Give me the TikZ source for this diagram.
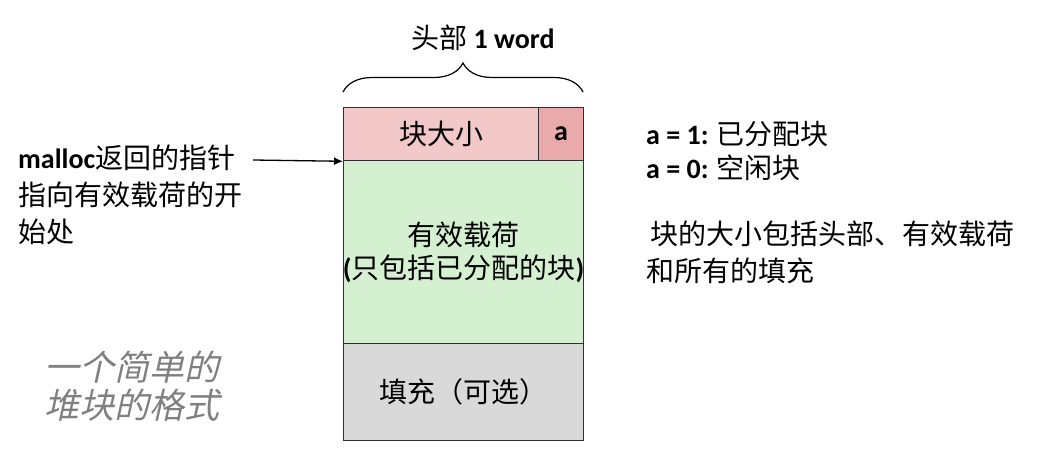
\documentclass[tikz,border=0pt]{standalone}
\usepackage{fontspec}
\setmainfont{Noto Sans CJK SC}
\newfontfamily\lat{Carlito}
\newfontfamily\cjkit[FakeSlant=0.22]{Noto Sans CJK SC}
\usetikzlibrary{decorations.pathreplacing,arrows.meta}
\definecolor{hdrpink}{HTML}{F2C8C8}
\definecolor{apink}{HTML}{E8AAAA}
\definecolor{paygreen}{HTML}{D5F0D0}
\definecolor{padgray}{HTML}{D9D9D9}
\definecolor{notegray}{HTML}{808080}
\definecolor{edge}{HTML}{303030}
\tikzset{
  cell/.style={draw=edge, line width=1.3pt, inner sep=0pt, anchor=north west, align=center,
    font=\fontsize{28}{33}\selectfont},
  txt/.style={inner sep=0pt, align=left, font=\fontsize{28}{37}\selectfont},
}
\begin{document}
\begin{tikzpicture}[x=1pt,y=-1pt]
\useasboundingbox (0,0) rectangle (1040,449);
% blocks
\node[cell, fill=hdrpink, minimum width=195pt, minimum height=53pt] (size) at (343,107) {块大小};
\node[cell, fill=apink, minimum width=45pt, minimum height=53pt] (abit) at (538,107) {\lat\bfseries a};
\node[cell, fill=paygreen, text width=240pt, minimum height=183pt] (pay) at (343,160)
  {有效载荷\\\makebox[0pt][c]{{\lat\bfseries(}只包括已分配的块{\lat\bfseries)}}};
\node[cell, fill=padgray, minimum width=240pt, minimum height=97pt] (pad) at (343,343) {填充（可选）};
% brace
\coordinate (bl) at (343,92);
\coordinate (br) at (583,92);
\draw[line width=1.2pt, decorate, decoration={brace, amplitude=29pt, aspect=0.5}] (bl) -- (br);
\node[txt, anchor=center] (hdrlbl) at (483,38) {头部 {\lat\bfseries 1 word}};
% pointer
\coordinate (ptr) at (253,160);
\draw[line width=1.3pt, -{Latex[length=9pt,width=8pt]}] (ptr) -- (size.south west);
\node[txt, anchor=north west] (ptrlbl) at (18,145) {{\lat\bfseries malloc}返回的指针\\指向有效载荷的开\\始处};
% right notes
\node[txt, anchor=west] (a1) at (646,134) {{\lat\bfseries a = 1:} 已分配块};
\node[txt, anchor=west] (a0) at (646,168) {{\lat\bfseries a = 0:} 空闲块};
\node[txt, anchor=north west] (sizenote) at (646,221) {\,块的大小包括头部、有效载荷\\和所有的填充};
% caption
\node[inner sep=0pt, align=left, anchor=north west, text=notegray,
  font=\fontsize{35}{38}\selectfont\cjkit] (cap) at (44,351) {一个简单的\\堆块的格式};
\end{tikzpicture}
\end{document}
